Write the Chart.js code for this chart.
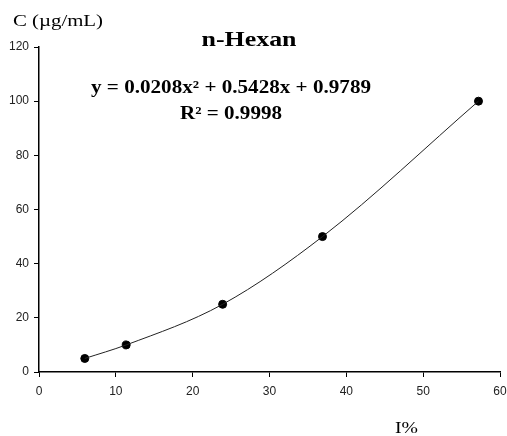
<!DOCTYPE html>
<html>
<head>
  <meta charset="UTF-8" />
  <title>n-Hexan</title>
  <script src="https://cdn.jsdelivr.net/npm/chart.js"></script>
  <style>
    html, body { margin: 0; padding: 0; background: #fff; }
    #wrap { width: 507px; height: 436px; }
  </style>
</head>
<body>
  <div id="wrap"><canvas id="chart" width="507" height="436"></canvas></div>

  <script>
    // measured points (I% vs concentration)
    const intensity = [5.96, 11.35, 23.9, 36.9, 57.2];
    const conc = [5, 10, 25, 50, 100];

    const xTicks = [0, 10, 20, 30, 40, 50, 60];
    const yTicks = [0, 20, 40, 60, 80, 100, 120];

    const titleText = "n-Hexan";
    const yLabel = "C (\u00b5g/mL)";
    const xLabel = "I%";
    const eqText = "y = 0.0208x\u00b2 + 0.5428x + 0.9789";
    const r2Text = "R\u00b2 = 0.9998";

    const points = intensity.map((x, i) => ({ x: x, y: conc[i] }));

    // the original picture is a bit stretched sideways, so texts get a fixed width
    function wideText(c, text, x, y, font, width, align) {
      c.save();
      c.font = font;
      const w = c.measureText(text).width;
      const sx = width / w;
      const left = align === "center" ? x - width / 2 : x;
      c.translate(left, y);
      c.scale(sx, 1);
      c.textAlign = "left";
      c.fillText(text, 0, 0);
      c.restore();
    }

    const textPlugin = {
      id: "texts",
      afterDraw(chart) {
        const c = chart.ctx;
        c.save();
        c.fillStyle = "#000";
        c.textBaseline = "alphabetic";
        wideText(c, titleText, 249, 46, "bold 22px 'Liberation Serif'", 95, "center");
        wideText(c, eqText, 231, 93, "bold 18px 'Liberation Serif'", 280, "center");
        wideText(c, r2Text, 231, 119, "bold 18px 'Liberation Serif'", 102, "center");
        wideText(c, yLabel, 13, 26, "16px 'Liberation Serif'", 90, "left");
        wideText(c, xLabel, 395, 433, "16px 'Liberation Serif'", 23, "left");
        c.restore();
      }
    };

    new Chart(document.getElementById("chart"), {
      type: "scatter",
      data: {
        datasets: [
          {
            label: "fit",
            type: "line",
            data: points,
            borderColor: "#222",
            borderWidth: 1,
            pointRadius: 0,
            fill: false,
            cubicInterpolationMode: "monotone"
          },
          {
            label: "data",
            data: points,
            backgroundColor: "#000",
            borderColor: "#000",
            pointRadius: 4,
            pointHoverRadius: 4
          }
        ]
      },
      options: {
        responsive: false,
        animation: false,
        layout: { padding: { top: 47, right: 7, left: 0, bottom: 0 } },
        plugins: {
          legend: { display: false },
          tooltip: { enabled: false }
        },
        scales: {
          x: {
            type: "linear",
            min: 0,
            max: 60,
            afterBuildTicks: s => { s.ticks = xTicks.map(v => ({ value: v })); },
            afterFit: s => { s.height = 64; s.paddingRight = 0; s.paddingLeft = 0; },
            border: { display: true, color: "#000", width: 1.5 },
            grid: { display: true, drawOnChartArea: false, drawTicks: true, tickLength: 5, color: "#000" },
            ticks: { color: "#222", padding: 7, maxRotation: 0, font: { family: "Arial, 'Liberation Sans'", size: 12 } }
          },
          y: {
            type: "linear",
            min: 0,
            max: 120,
            afterBuildTicks: s => { s.ticks = yTicks.map(v => ({ value: v })); },
            afterFit: s => { s.width = 39; s.paddingTop = 0; s.paddingBottom = 0; },
            border: { display: true, color: "#000", width: 1.5 },
            grid: { display: true, drawOnChartArea: false, drawTicks: true, tickLength: 5, color: "#000" },
            ticks: { color: "#222", padding: 5, font: { family: "Arial, 'Liberation Sans'", size: 12 } }
          }
        }
      },
      plugins: [textPlugin]
    });
  </script>
</body>
</html>
